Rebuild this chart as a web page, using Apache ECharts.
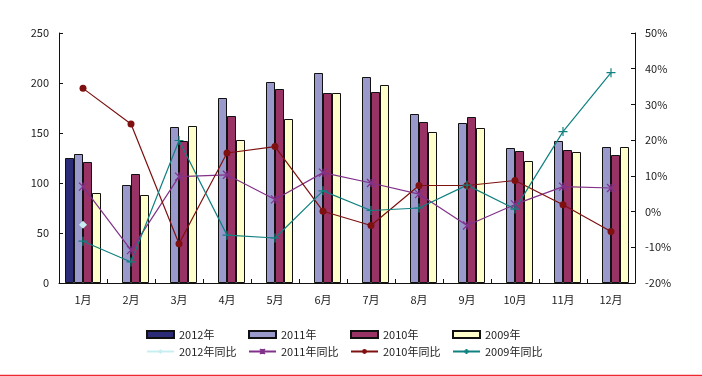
<!DOCTYPE html>
<html>
<head>
<meta charset="utf-8">
<script src="https://cdn.jsdelivr.net/npm/echarts@6/dist/echarts.min.js"></script>
<style>
    html, body { margin: 0; padding: 0; background: #fff; }
    #chart { width: 702px; height: 376px; }
</style>
</head>
<body>
<div id="chart"></div>
<script>
// months
var months = ['1月', '2月', '3月', '4月', '5月', '6月', '7月', '8月', '9月', '10月', '11月', '12月']

// sales volume (left axis)
var v2012 = [125, '-', '-', '-', '-', '-', '-', '-', '-', '-', '-', '-']
var v2011 = [129, 98, 156, 185, 201, 210, 206, 169, 160, 135, 142, 136]
var v2010 = [121, 109, 142, 167, 194, 190, 191, 161, 166, 132, 133, 128]
var v2009 = [90, 88, 157, 143, 164, 190, 198, 151, 155, 122, 131, 136]

// year-on-year, percent (right axis)
var yoy2012 = [-3.7, '-', '-', '-', '-', '-', '-', '-', '-', '-', '-', '-']
var yoy2011 = [7.0, -10.8, 9.8, 10.3, 3.4, 10.9, 8.0, 4.9, -3.9, 2.0, 7.0, 6.6]
var yoy2010 = [34.5, 24.5, -9.0, 16.4, 18.2, 0.1, -3.9, 7.3, 7.3, 8.7, 1.9, -5.6]
var yoy2009 = [-8.3, -14.1, 19.9, -6.6, -7.4, 5.8, 0.3, 1.0, 7.4, 0.7, 22.4, 38.9]

var font = '"Noto Sans CJK SC", sans-serif'
var textColor = '#222'

var chart = echarts.init(document.getElementById('chart'))

function barSeries(name, data, color) {
    return {
        name: name,
        type: 'bar',
        yAxisIndex: 0,
        barWidth: 9,
        barGap: '0%',
        itemStyle: { color: color, borderColor: '#111', borderWidth: 1 },
        data: data,
    }
}

function lineSeries(name, data, color, symbol, size, extra) {
    var s = {
        name: name,
        type: 'line',
        yAxisIndex: 1,
        symbol: symbol,
        symbolSize: size,
        showAllSymbol: true,
        lineStyle: { color: color, width: 1.2 },
        itemStyle: { color: color, borderColor: color, borderWidth: 1.2 },
        data: data,
    }
    return Object.assign(s, extra || {})
}

// one legend per item so the columns line up like the original
var legendCols = [146, 248, 350, 452]
var barNames = ['2012年', '2011年', '2010年', '2009年']
var lineNames = ['2012年同比', '2011年同比', '2010年同比', '2009年同比']
var legends = []
barNames.forEach(function (n, i) {
    legends.push({
        data: [n], left: legendCols[i], top: 329, icon: 'rect',
        itemWidth: 27, itemHeight: 7, itemGap: 4, padding: 0,
        textStyle: { fontSize: 11, fontFamily: font, color: textColor },
    })
})
lineNames.forEach(function (n, i) {
    legends.push({
        data: [n], left: legendCols[i], top: 346,
        itemWidth: 27, itemHeight: 6, itemGap: 4, padding: 0,
        textStyle: { fontSize: 11, fontFamily: font, color: textColor },
    })
})

var options = {
    animation: false,
    backgroundColor: '#fff',
    textStyle: { fontFamily: font },
    legend: legends,
    grid: { left: 59, right: 67, top: 33, bottom: 93 },
    xAxis: {
        type: 'category',
        data: months,
        boundaryGap: true,
        axisLine: { show: true, lineStyle: { color: '#111', width: 1 } },
        axisTick: { show: true, inside: true, length: 4, lineStyle: { color: '#111' } },
        axisLabel: { color: textColor, fontSize: 11, fontFamily: font, margin: 11 },
        splitLine: { show: false },
    },
    yAxis: [
        {
            type: 'value',
            min: 0,
            max: 250,
            interval: 50,
            axisLine: { show: true, lineStyle: { color: '#111', width: 1 } },
            axisTick: { show: true, inside: true, length: 4, lineStyle: { color: '#111' } },
            axisLabel: { color: textColor, fontSize: 11, fontFamily: font, margin: 10 },
            splitLine: { show: false },
        },
        {
            type: 'value',
            min: -20,
            max: 50,
            interval: 10,
            axisLine: { show: true, lineStyle: { color: '#111', width: 1 } },
            axisTick: { show: true, inside: true, length: 4, lineStyle: { color: '#111' } },
            axisLabel: { color: textColor, fontSize: 11, fontFamily: font, margin: 10, formatter: '{value}%' },
            splitLine: { show: false },
        },
    ],
    series: [
        barSeries('2012年', v2012, '#2b2b78'),
        barSeries('2011年', v2011, '#9999cc'),
        barSeries('2010年', v2010, '#993366'),
        barSeries('2009年', v2009, '#ffffcc'),
        lineSeries('2012年同比', yoy2012, '#c8eef2', 'diamond', 8, { itemStyle: { color: '#c8eef2', borderColor: '#c8eef2', borderWidth: 0 } }),
        lineSeries('2011年同比', yoy2011, '#82318a', 'path://M0,0L10,10M10,0L0,10M5,0L5,10', 8),
        lineSeries('2010年同比', yoy2010, '#7f1010', 'circle', 7, { itemStyle: { color: '#7f1010', borderWidth: 0 } }),
        lineSeries('2009年同比', yoy2009, '#108080', 'path://M5,0L5,10M0,5L10,5', 9),
    ],
    graphic: [
        {
            type: 'line',
            shape: { x1: 0, y1: 375.5, x2: 702, y2: 375.5 },
            style: { stroke: '#ee2a30', lineWidth: 1.5 },
            silent: true,
        },
    ],
}

chart.setOption(options)
</script>
</body>
</html>
